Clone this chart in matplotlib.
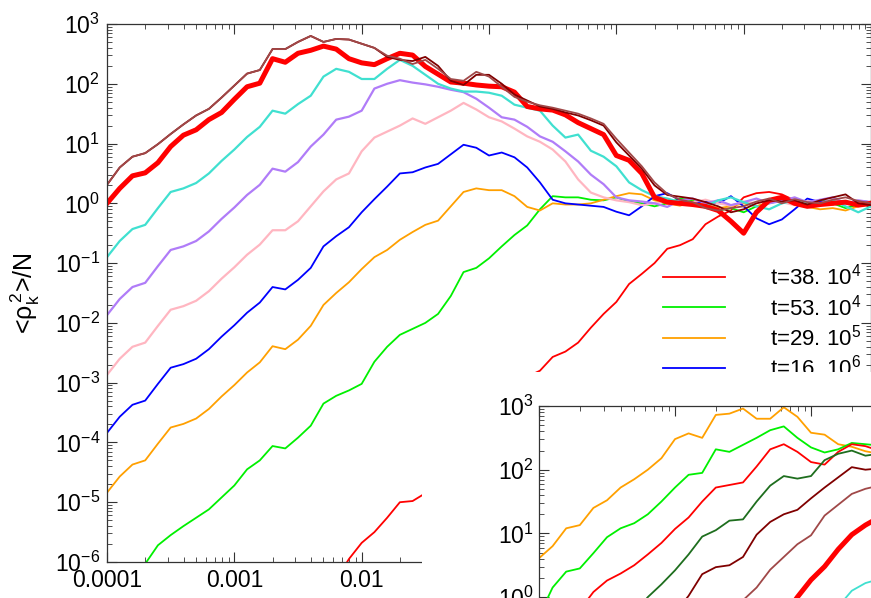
import numpy as np
import matplotlib.pyplot as plt
from matplotlib.patches import Rectangle
from matplotlib.ticker import LogLocator, FixedLocator, FixedFormatter, NullFormatter

plt.rcParams['font.family'] = ['Liberation Sans', 'DejaVu Sans']
plt.rcParams['mathtext.default'] = 'regular'

# values, stored as log10 (both axes are logarithmic)
logk_main = [-4.0, -3.9, -3.8, -3.7, -3.6, -3.5, -3.4, -3.3, -3.2, -3.1,
             -3.0, -2.9, -2.8, -2.7, -2.6, -2.5, -2.4, -2.3, -2.2, -2.1,
             -2.0, -1.9, -1.8, -1.7, -1.6, -1.5, -1.4, -1.3, -1.2, -1.1,
             -1.0, -0.9, -0.8, -0.7, -0.6, -0.5, -0.4, -0.3, -0.2, -0.1,
             0.0, 0.1, 0.2, 0.3, 0.4, 0.5, 0.6, 0.7, 0.8, 0.9,
             1.0, 1.1, 1.2, 1.3, 1.4, 1.5, 1.6, 1.7, 1.8, 1.9,
             2.0]
nan = np.nan

red_38e4 = [nan, nan, nan, nan, nan, nan, nan, nan, nan, nan,
            nan, nan, nan, nan, nan, nan, nan, nan, -6.30, -5.95,
            -5.68, -5.50, -5.26, -5.00, -4.98, -4.85, -4.60, -4.30, -4.00, -3.70,
            -3.50, -3.25, -3.05, -2.90, -2.80, -2.57, -2.48, -2.33, -2.08, -1.85,
            -1.65, -1.35, -1.18, -1.00, -0.76, -0.70, -0.60, -0.35, -0.22, -0.12,
            0.10, 0.17, 0.19, 0.15, 0.05, 0.00, 0.05, -0.02, 0.03, 0.00,
            -0.03]
green_53e4 = [nan, nan, -6.13, -6.03, -5.72, -5.55, -5.40, -5.26, -5.12, -4.92,
              -4.72, -4.45, -4.30, -4.06, -4.10, -3.92, -3.72, -3.35, -3.22, -3.13,
              -3.02, -2.65, -2.40, -2.20, -2.10, -2.00, -1.85, -1.55, -1.15, -1.08,
              -0.92, -0.72, -0.53, -0.37, -0.10, 0.12, 0.10, 0.10, 0.06, 0.05,
              0.10, 0.03, 0.00, -0.05, 0.00, 0.08, 0.05, -0.05, -0.12, -0.08,
              -0.15, -0.05, 0.00, 0.05, 0.02, -0.03, 0.05, 0.00, -0.08, -0.02,
              0.03]
orange_29e5 = [-4.84, -4.57, -4.37, -4.30, -4.02, -3.75, -3.69, -3.60, -3.44, -3.23,
               -3.04, -2.83, -2.66, -2.39, -2.44, -2.28, -2.05, -1.70, -1.50, -1.32,
               -1.10, -0.90, -0.78, -0.61, -0.48, -0.36, -0.29, -0.05, 0.19, 0.25,
               0.22, 0.22, 0.12, -0.06, -0.12, 0.00, -0.02, -0.02, 0.00, 0.06,
               0.12, 0.17, 0.15, 0.05, 0.00, -0.04, 0.03, -0.02, -0.08, -0.05,
               0.00, -0.05, 0.02, 0.05, -0.02, -0.06, -0.10, -0.08, -0.12, -0.05,
               -0.02]
blue_16e6 = [-3.84, -3.57, -3.37, -3.30, -3.02, -2.75, -2.69, -2.60, -2.44, -2.23,
             -2.04, -1.83, -1.66, -1.40, -1.44, -1.28, -1.08, -0.72, -0.55, -0.40,
             -0.15, 0.07, 0.28, 0.50, 0.52, 0.60, 0.66, 0.82, 0.98, 0.93,
             0.80, 0.85, 0.77, 0.60, 0.35, 0.06, 0.00, -0.02, -0.04, -0.06,
             -0.14, -0.20, -0.05, 0.12, 0.17, 0.05, 0.00, 0.03, 0.00, 0.12,
             -0.05, -0.25, -0.35, -0.27, -0.10, 0.08, 0.02, 0.05, 0.00, 0.04,
             0.02]
pink = [-2.87, -2.60, -2.40, -2.33, -2.05, -1.78, -1.72, -1.63, -1.47, -1.26,
        -1.07, -0.86, -0.69, -0.45, -0.45, -0.30, -0.05, 0.20, 0.40, 0.50,
        0.87, 1.10, 1.20, 1.30, 1.42, 1.33, 1.44, 1.55, 1.68, 1.57,
        1.44, 1.37, 1.25, 1.12, 1.03, 0.90, 0.70, 0.40, 0.18, 0.10,
        0.05, 0.02, -0.03, 0.00, 0.04, -0.02, 0.02, 0.06, 0.00, -0.04,
        0.03, 0.00, 0.05, 0.02, -0.03, 0.04, 0.00, 0.06, 0.02, -0.02,
        0.03]
purple = [-1.87, -1.60, -1.40, -1.33, -1.05, -0.78, -0.72, -0.63, -0.47, -0.26,
          -0.07, 0.14, 0.31, 0.58, 0.53, 0.69, 0.95, 1.15, 1.40, 1.45,
          1.55, 1.92, 2.00, 2.06, 2.02, 1.99, 1.95, 1.90, 1.86, 1.75,
          1.60, 1.44, 1.40, 1.28, 1.12, 1.03, 0.87, 0.70, 0.48, 0.32,
          0.10, 0.05, 0.03, 0.00, -0.06, 0.05, 0.08, 0.00, 0.05, -0.03,
          0.02, 0.08, 0.00, 0.04, 0.10, 0.02, 0.06, 0.10, 0.00, 0.05,
          0.02]
turquoise = [-0.90, -0.63, -0.43, -0.36, -0.08, 0.19, 0.25, 0.34, 0.50, 0.71,
             0.90, 1.11, 1.28, 1.55, 1.50, 1.66, 1.80, 2.12, 2.25, 2.20,
             2.08, 2.08, 2.25, 2.40, 2.30, 2.15, 2.00, 1.92, 1.87, 1.87,
             1.85, 1.80, 1.65, 1.60, 1.55, 1.30, 1.10, 1.15, 0.88, 0.78,
             0.62, 0.35, 0.22, 0.12, 0.08, 0.02, 0.00, -0.05, 0.05, 0.10,
             0.02, -0.05, -0.10, 0.00, 0.05, 0.00, -0.03, 0.05, -0.05, -0.15,
             -0.05]
red_thick = [0.00, 0.25, 0.46, 0.51, 0.68, 0.95, 1.14, 1.23, 1.40, 1.52,
             1.74, 1.95, 2.01, 2.42, 2.36, 2.51, 2.56, 2.63, 2.58, 2.42,
             2.35, 2.32, 2.42, 2.51, 2.48, 2.29, 2.16, 2.03, 2.01, 1.98,
             1.96, 1.95, 1.86, 1.62, 1.58, 1.56, 1.48, 1.35, 1.25, 1.15,
             0.80, 0.72, 0.50, 0.10, 0.02, 0.00, -0.02, -0.05, -0.12, -0.30,
             -0.50, -0.15, 0.05, 0.10, 0.00, -0.05, -0.02, 0.00, 0.02, -0.03,
             0.00]
maroon = [0.31, 0.60, 0.78, 0.84, 0.99, 1.16, 1.32, 1.47, 1.58, 1.77,
          1.97, 2.17, 2.23, 2.58, 2.58, 2.70, 2.80, 2.70, 2.75, 2.74,
          2.67, 2.60, 2.45, 2.40, 2.38, 2.45, 2.30, 2.05, 1.98, 2.15,
          2.15, 2.00, 1.82, 1.72, 1.62, 1.58, 1.52, 1.47, 1.39, 1.30,
          1.02, 0.80, 0.58, 0.30, 0.14, 0.11, 0.08, 0.02, -0.05, -0.15,
          -0.10, 0.00, 0.05, 0.03, 0.05, -0.02, 0.05, 0.10, 0.15, 0.00,
          -0.03]
brown = [0.31, 0.60, 0.78, 0.84, 0.99, 1.16, 1.32, 1.47, 1.58, 1.77,
         1.97, 2.17, 2.23, 2.58, 2.58, 2.70, 2.80, 2.70, 2.75, 2.74,
         2.67, 2.60, 2.47, 2.42, 2.33, 2.40, 2.25, 2.08, 2.05, 2.20,
         2.12, 1.95, 1.78, 1.70, 1.64, 1.60, 1.55, 1.50, 1.42, 1.33,
         1.08, 0.85, 0.62, 0.35, 0.16, 0.06, 0.02, -0.08, -0.12, -0.08,
         -0.05, 0.03, 0.08, 0.00, 0.07, 0.02, 0.00, 0.06, 0.10, 0.04,
         0.00]

# inset (its own axis, labels fall outside the picture)
logk_inset = [-4.0, -3.9, -3.8, -3.7, -3.6, -3.5, -3.4, -3.3, -3.2, -3.1,
              -3.0, -2.9, -2.8, -2.7, -2.6, -2.5, -2.4, -2.3, -2.2, -2.1,
              -2.0, -1.9, -1.8, -1.7, -1.6, -1.5]
in_orange = [0.61, 0.80, 1.08, 1.13, 1.40, 1.52, 1.72, 1.85, 2.00, 2.18,
             2.48, 2.57, 2.50, 2.86, 2.88, 2.96, 2.80, 2.80, 2.98, 2.83,
             2.58, 2.55, 2.40, 2.36, 2.29, 2.25]
in_green = [-0.30, 0.15, 0.40, 0.45, 0.69, 0.94, 1.08, 1.16, 1.30, 1.50,
            1.72, 1.92, 1.95, 2.32, 2.28, 2.39, 2.50, 2.62, 2.68, 2.50,
            2.35, 2.27, 2.32, 2.42, 2.40, 2.38]
in_red = [nan, nan, nan, -0.20, 0.08, 0.26, 0.37, 0.50, 0.67, 0.85,
          1.07, 1.25, 1.50, 1.72, 1.76, 1.80, 2.05, 2.32, 2.40, 2.28,
          2.12, 2.08, 2.28, 2.40, 2.37, 2.30]
in_darkgreen = [nan, nan, nan, nan, nan, nan, nan, -0.25, 0.00, 0.20,
                0.42, 0.67, 0.95, 1.05, 1.20, 1.22, 1.50, 1.75, 1.90, 1.86,
                1.90, 2.15, 2.25, 2.30, 2.22, 2.25]
in_maroon = [nan, nan, nan, nan, nan, nan, nan, nan, nan, nan,
             -0.25, 0.02, 0.36, 0.47, 0.50, 0.63, 0.98, 1.18, 1.30, 1.37,
             1.55, 1.72, 1.88, 2.04, 2.00, 2.02]
in_brown = [nan, nan, nan, nan, nan, nan, nan, nan, nan, nan,
            nan, nan, nan, nan, -0.30, -0.05, 0.15, 0.43, 0.63, 0.83,
            0.97, 1.28, 1.45, 1.62, 1.70, 1.75]
in_red_thick = [nan, nan, nan, nan, nan, nan, nan, nan, nan, nan,
                nan, nan, nan, nan, nan, nan, nan, nan, -0.30, 0.00,
                0.27, 0.48, 0.75, 0.98, 1.13, 1.25]
in_cyan = [nan, nan, nan, nan, nan, nan, nan, nan, nan, nan,
           nan, nan, nan, nan, nan, nan, nan, nan, nan, nan,
           nan, nan, -0.15, 0.10, 0.22, 0.28]

legend_labels = ['t=38. $10^4$', 't=53. $10^4$', 't=29. $10^5$', 't=16. $10^6$']
xtick_vals = [1e-4, 1e-3, 1e-2, 1e-1, 1, 10, 100]
xtick_text = ['0.0001', '0.001', '0.01', '0.1', '1', '10', '100']

C_RED, C_GREEN, C_ORANGE, C_BLUE = '#ff0000', '#00f000', '#ffa000', '#0000ff'
C_PINK, C_PURPLE, C_TURQ = '#ffb6c1', '#b07cf8', '#40e0d0'
C_MAROON, C_BROWN, C_DKGREEN = '#800000', '#a04848', '#1e6e1e'


def p(v):
    return np.power(10.0, np.array(v, dtype=float))


def style(a, size):
    a.set_xscale('log')
    a.set_yscale('log')
    a.tick_params(which='both', direction='in', top=True, right=True,
                  labelsize=size, color='#333333')
    a.tick_params(which='major', length=7, width=0.8)
    a.tick_params(which='minor', length=3.5, width=0.6)
    a.xaxis.set_minor_locator(LogLocator(subs=np.arange(2, 10), numticks=30))
    a.yaxis.set_minor_locator(LogLocator(subs=np.arange(2, 10), numticks=30))
    a.xaxis.set_minor_formatter(NullFormatter())
    a.yaxis.set_minor_formatter(NullFormatter())
    for s in a.spines.values():
        s.set_linewidth(0.9)
        s.set_color('#333333')


fig = plt.figure(figsize=(8.71, 5.98), dpi=100)
ax = fig.add_axes([107 / 871, 36 / 598, 764 / 871, 538 / 598])
ax.set_zorder(0)
style(ax, 16.5)

k = p(logk_main)
lw = 1.3
l_red, = ax.plot(k, p(red_38e4), color=C_RED, lw=lw)
l_green, = ax.plot(k, p(green_53e4), color=C_GREEN, lw=lw)
l_orange, = ax.plot(k, p(orange_29e5), color=C_ORANGE, lw=lw)
l_blue, = ax.plot(k, p(blue_16e6), color=C_BLUE, lw=lw)
ax.plot(k, p(pink), color=C_PINK, lw=lw + 0.3)
ax.plot(k, p(purple), color=C_PURPLE, lw=lw + 0.3)
ax.plot(k, p(turquoise), color=C_TURQ, lw=lw + 0.3)
ax.plot(k, p(red_thick), color=C_RED, lw=3.6)
ax.plot(k, p(maroon), color=C_MAROON, lw=lw)
ax.plot(k, p(brown), color=C_BROWN, lw=lw)

ax.set_xlim(1e-4, 100)
ax.set_ylim(1e-6, 1e3)
ax.xaxis.set_major_locator(FixedLocator(xtick_vals))
ax.xaxis.set_major_formatter(FixedFormatter(xtick_text))
ax.yaxis.set_major_locator(LogLocator(numticks=20))
ax.tick_params(axis='x', which='major', pad=5)
ax.tick_params(axis='y', which='major', pad=5)
ax.set_ylabel(r'<$\rho_k^{\,2}$>/N', fontsize=18)
ax.yaxis.set_label_coords(-0.085, 0.50)

ax.legend([l_red, l_green, l_orange, l_blue], legend_labels,
          loc='upper right', bbox_to_anchor=(861 / 871, 334 / 598),
          bbox_transform=fig.transFigure, frameon=False, fontsize=16,
          handlelength=2.8, handletextpad=2.0, labelspacing=0.2,
          borderpad=0, borderaxespad=0)

# white panel on which the inset sits
fig.patches.append(Rectangle((422 / 871, 0), 1 - 422 / 871, 226 / 598,
                             transform=fig.transFigure, facecolor='white',
                             edgecolor='none', zorder=1))

ins = fig.add_axes([539 / 871, -126.5 / 598, 408 / 871, 318.5 / 598])
ins.set_zorder(2)
style(ins, 16.5)
ki = p(logk_inset)
ins.plot(ki, p(in_orange), color=C_ORANGE, lw=lw)
ins.plot(ki, p(in_green), color=C_GREEN, lw=lw)
ins.plot(ki, p(in_red), color=C_RED, lw=lw)
ins.plot(ki, p(in_darkgreen), color=C_DKGREEN, lw=lw)
ins.plot(ki, p(in_maroon), color=C_MAROON, lw=lw)
ins.plot(ki, p(in_brown), color=C_BROWN, lw=lw)
ins.plot(ki, p(in_red_thick), color=C_RED, lw=3.6)
ins.plot(ki, p(in_cyan), color=C_TURQ, lw=lw)
ins.set_xlim(1e-4, 1e-1)
ins.set_ylim(1e-2, 1e3)
ins.yaxis.set_major_locator(LogLocator(numticks=20))

fig.savefig('out.png', dpi=100)
